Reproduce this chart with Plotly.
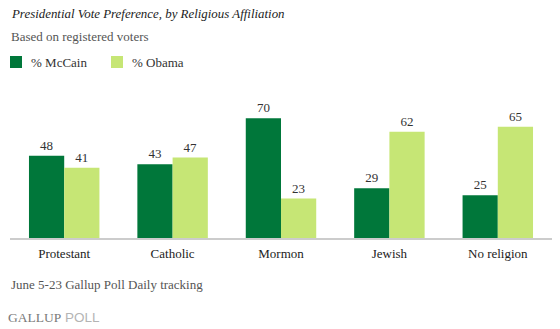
import plotly.graph_objects as go

# Religious affiliation groups and candidate preference (%)
groups = ["Protestant", "Catholic", "Mormon", "Jewish", "No religion"]
mccain = [48, 43, 70, 29, 25]
obama = [41, 47, 23, 62, 65]
series_names = ["% McCain", "% Obama"]

MCCAIN_GREEN = "#00773a"
OBAMA_GREEN = "#c6e675"
SERIF = "Liberation Serif"

fig = go.Figure()
for name, vals, col in [(series_names[0], mccain, MCCAIN_GREEN),
                        (series_names[1], obama, OBAMA_GREEN)]:
    fig.add_trace(go.Bar(
        x=groups, y=vals, name=name,
        marker=dict(color=col, line=dict(width=0)),
        text=[str(v) for v in vals], textposition="outside",
        textfont=dict(family=SERIF, size=13, color="#333333"),
        cliponaxis=False, showlegend=False,
    ))

W_PLOT = 542.0  # plot-area width in px
H_PLOT = 137.0  # plot-area height in px


def px_x(pixel_x):
    """Convert a page pixel column to paper x for the plot area."""
    return (pixel_x - 10) / W_PLOT


def px_y(pixel_y):
    """Convert a page pixel row to paper y for the plot area."""
    return (238 - pixel_y) / H_PLOT


annotations = [
    dict(text="<i>Presidential Vote Preference, by Religious Affiliation</i>",
         x=px_x(9), y=px_y(14), font=dict(family=SERIF, size=12.9, color="#222222")),
    dict(text="Based on registered voters",
         x=px_x(9), y=px_y(37), font=dict(family=SERIF, size=13, color="#555555")),
    dict(text="June 5-23 Gallup Poll Daily tracking",
         x=px_x(9), y=px_y(284), font=dict(family=SERIF, size=13, color="#555555")),
    dict(text="<span style='color:#7a7a7a'>GALLUP</span>"
              "<span style='font-family:Liberation Sans;font-size:13.5px;color:#b4b4b4'> POLL</span>",
         x=px_x(6), y=px_y(317), font=dict(family=SERIF, size=13.5, color="#7a7a7a")),
]

# Legend: colour swatch followed by series name
shapes = []
legend_pos = [(10, 30), (111, 131)]
for (sx, tx), name, col in zip(legend_pos, series_names, [MCCAIN_GREEN, OBAMA_GREEN]):
    shapes.append(dict(type="rect", xref="paper", yref="paper",
                       x0=px_x(sx), x1=px_x(sx + 12), y0=px_y(68), y1=px_y(56),
                       fillcolor=col, line=dict(width=0)))
    annotations.append(dict(text=name, x=px_x(tx - 1), y=px_y(62),
                            font=dict(family=SERIF, size=13, color="#333333")))

for a in annotations:
    a.update(xref="paper", yref="paper", xanchor="left", yanchor="middle",
             showarrow=False, align="left")

fig.update_layout(
    width=560, height=329,
    margin=dict(l=10, r=8, t=101, b=91, autoexpand=False),
    paper_bgcolor="white", plot_bgcolor="white",
    barmode="group", bargap=0.35, bargroupgap=0,
    showlegend=False,
    annotations=annotations,
    shapes=shapes,
    xaxis=dict(showgrid=False, showline=True, linecolor="#cccccc", linewidth=2,
               ticks="", ticklabelstandoff=2,
               tickfont=dict(family=SERIF, size=13, color="#222222"),
               fixedrange=True),
    yaxis=dict(range=[0, 80], visible=False, fixedrange=True),
)

fig.write_html("out.html", config={"displayModeBar": False})
